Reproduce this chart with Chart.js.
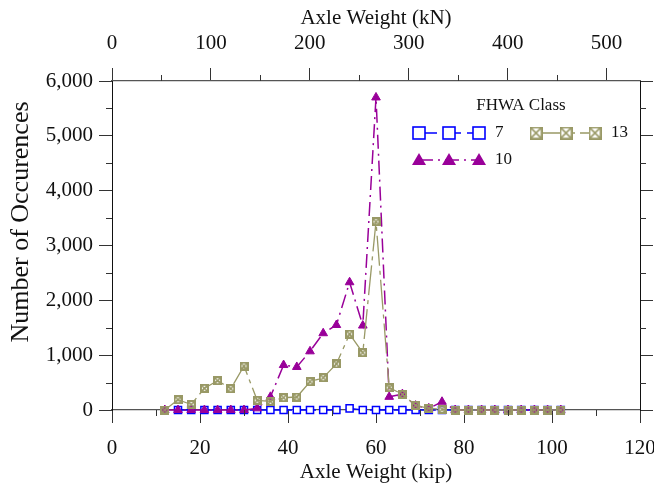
<!DOCTYPE html>
<html>
<head>
<meta charset="utf-8">
<script src="https://cdn.jsdelivr.net/npm/chart.js@4/dist/chart.umd.min.js"></script>
<style>
  html, body { margin: 0; padding: 0; background: #fff; }
  canvas { display: block; }
</style>
</head>
<body>
<canvas id="axleChart" width="654" height="489"></canvas>
<script>
// axle weights (kip) and number of occurences per FHWA class
const kips = [12, 15, 18, 21, 24, 27, 30, 33, 36, 39, 42, 45, 48, 51, 54, 57, 60, 63, 66, 69, 72, 75, 78, 81, 84, 87, 90, 93, 96, 99, 102];
const class7 = [null, 0, 0, 0, 0, 0, 0, 0, 0, 0, 0, 0, 0, 0, 30, 0, 0, 0, 0, 0, 0, 0, 0, 0, 0, 0, 0, 0, 0, 0, 0];
const class10 = [0, 0, 0, 0, 0, 0, 0, 30, 240, 820, 785, 1070, 1400, 1550, 2330, 1540, 5700, 240, 290, 80, 30, 150, 0, 0, 0, 0, 0, 0, 0, 0, 0];
const class13 = [0, 188, 100, 396, 534, 388, 802, 177, 159, 224, 237, 516, 589, 839, 1386, 1045, 3434, 407, 286, 85, 31, 12, 0, 0, 0, 0, 0, 0, 0, 0, 0];
const kipTicks = [0, 20, 40, 60, 80, 100, 120];
const kNTicks = [0, 100, 200, 300, 400, 500];

const KN_PER_KIP = 4.448;
const BLUE = "#0000ff", PURPLE = "#990099", TAN = "#999966";
const FONT = "'Liberation Serif', 'Times New Roman', serif";
const AXIS = "#333";

function pairs(ys) {
    return kips.map((x, i) => ({ x: x, y: ys[i] }));
}

function crossBox(size, lw, xw) {
    const c = document.createElement("canvas");
    c.width = c.height = size;
    const g = c.getContext("2d");
    const h = lw / 2;
    g.strokeStyle = TAN;
    g.lineWidth = lw;
    g.strokeRect(h, h, size - lw, size - lw);
    g.lineWidth = xw;
    g.beginPath();
    g.moveTo(h, h); g.lineTo(size - h, size - h);
    g.moveTo(size - h, h); g.lineTo(h, size - h);
    g.stroke();
    return c;
}

// minor ticks halfway between the labelled ones
const minorTicks = {
    id: "minorTicks",
    afterDraw(chart) {
        const ctx = chart.ctx, a = chart.chartArea, s = chart.scales;
        ctx.save();
        ctx.strokeStyle = AXIS;
        ctx.lineWidth = 1;
        ctx.beginPath();
        for (let v = 500; v < 6000; v += 1000) {
            const py = Math.round(s.y.getPixelForValue(v)) + 0.5;
            ctx.moveTo(a.left - 6, py); ctx.lineTo(a.left, py);
            ctx.moveTo(a.right, py); ctx.lineTo(a.right + 6, py);
        }
        for (let v = 10; v < 120; v += 20) {
            const px = Math.round(s.x.getPixelForValue(v)) + 0.5;
            ctx.moveTo(px, a.bottom); ctx.lineTo(px, a.bottom + 6);
        }
        for (let v = 50; v < 533; v += 100) {
            const px = Math.round(s.xTop.getPixelForValue(v)) + 0.5;
            ctx.moveTo(px, a.top - 6); ctx.lineTo(px, a.top);
        }
        ctx.stroke();

        // y title sits a little above the middle of the axis in the original
        ctx.translate(21, 222);
        ctx.rotate(-Math.PI / 2);
        ctx.fillStyle = "#111";
        ctx.font = "26px " + FONT;
        ctx.textAlign = "center";
        ctx.textBaseline = "middle";
        ctx.fillText("Number of Occurences", 0, 0);
        ctx.restore();
    }
};

// legend drawn as in the original: three markers joined by the series line
const seriesLegend = {
    id: "seriesLegend",
    afterDraw(chart) {
        const ctx = chart.ctx;
        ctx.save();
        ctx.fillStyle = "#111";
        ctx.font = "17px " + FONT;
        ctx.textAlign = "center";
        ctx.textBaseline = "middle";
        ctx.fillText("FHWA Class", 521, 106);

        const entries = [
            { label: "7", xs: [419, 449, 479], y: 133, tx: 495, color: BLUE, dash: [18, 6], kind: "square" },
            { label: "13", xs: [536, 566, 595], y: 133, tx: 611, color: TAN, dash: [30, 5, 4, 5], kind: "cross" },
            { label: "10", xs: [419, 449, 479], y: 160, tx: 495, color: PURPLE, dash: [14, 5, 2, 5], kind: "triangle" }
        ];
        const bigCross = crossBox(13, 1.8, 1.6);
        entries.forEach(e => {
            ctx.strokeStyle = e.color;
            ctx.lineWidth = 1.3;
            ctx.setLineDash(e.dash);
            ctx.beginPath();
            ctx.moveTo(e.xs[0], e.y);
            ctx.lineTo(e.xs[2], e.y);
            ctx.stroke();
            ctx.setLineDash([]);
            e.xs.forEach(x => {
                if (e.kind === "square") {
                    ctx.fillStyle = "#fff";
                    ctx.fillRect(x - 6, e.y - 6, 12, 12);
                    ctx.lineWidth = 1.6;
                    ctx.strokeRect(x - 6, e.y - 6, 12, 12);
                } else if (e.kind === "triangle") {
                    ctx.fillStyle = e.color;
                    ctx.beginPath();
                    ctx.moveTo(x, e.y - 7);
                    ctx.lineTo(x + 7, e.y + 5);
                    ctx.lineTo(x - 7, e.y + 5);
                    ctx.closePath();
                    ctx.fill();
                } else {
                    ctx.fillStyle = "#fff";
                    ctx.fillRect(x - 6, e.y - 6, 12, 12);
                    ctx.drawImage(bigCross, x - 6.5, e.y - 6.5);
                }
            });
            ctx.fillStyle = "#111";
            ctx.textAlign = "left";
            ctx.fillText(e.label, e.tx, e.y);
        });
        ctx.restore();
    }
};

const tickFont = { family: FONT, size: 21 };
const titleFont = { family: FONT, size: 21 };

new Chart(document.getElementById("axleChart").getContext("2d"), {
    type: "line",
    data: {
        datasets: [{
            label: "7",
            data: pairs(class7),
            borderColor: BLUE,
            borderWidth: 1.3,
            borderDash: [18, 6],
            pointStyle: "rect",
            pointRadius: 5,
            pointBorderWidth: 1.5,
            pointBorderColor: BLUE,
            pointBackgroundColor: "#fff",
            clip: false,
            order: 3
        }, {
            label: "10",
            data: pairs(class10),
            borderColor: PURPLE,
            borderWidth: 1.5,
            borderDash: [14, 5, 2, 5],
            pointStyle: "triangle",
            pointRadius: 5,
            pointBorderWidth: 1,
            pointBorderColor: PURPLE,
            pointBackgroundColor: PURPLE,
            clip: false,
            order: 2
        }, {
            label: "13",
            data: pairs(class13),
            borderColor: TAN,
            borderWidth: 1.3,
            borderDash: [30, 5, 4, 5],
            pointStyle: crossBox(9, 2, 1.6),
            pointRadius: 5,
            clip: false,
            order: 1
        }]
    },
    options: {
        responsive: false,
        devicePixelRatio: 1,
        animation: false,
        events: [],
        layout: { padding: 0 },
        plugins: { legend: { display: false }, tooltip: { enabled: false } },
        scales: {
            x: {
                type: "linear",
                position: "bottom",
                min: 0, max: 120,
                afterFit(s) { s.height = 79; s.paddingLeft = 0; s.paddingRight = 0; },
                afterBuildTicks(s) { s.ticks = kipTicks.map(v => ({ value: v })); },
                border: { color: "#555", width: 1.2 },
                grid: { drawOnChartArea: false, tickLength: 13, tickColor: AXIS },
                ticks: { font: tickFont, color: "#111", padding: 13, maxRotation: 0 },
                title: { display: true, text: "Axle Weight (kip)", font: titleFont, color: "#111", padding: { top: 0, bottom: 4 } }
            },
            xTop: {
                type: "linear",
                position: "top",
                min: 0, max: 120 * KN_PER_KIP,
                afterFit(s) { s.height = 81; s.paddingLeft = 0; s.paddingRight = 0; },
                afterBuildTicks(s) { s.ticks = kNTicks.map(v => ({ value: v })); },
                border: { color: "#555", width: 1.2 },
                grid: { drawOnChartArea: false, tickLength: 13, tickColor: AXIS },
                ticks: { font: tickFont, color: "#111", padding: 12, maxRotation: 0 },
                title: { display: true, text: "Axle Weight (kN)", font: titleFont, color: "#111", padding: { top: 6, bottom: 0 } }
            },
            y: {
                position: "left",
                min: 0, max: 6000,
                afterFit(s) { s.width = 112; s.paddingTop = 0; s.paddingBottom = 0; },
                border: { color: "#111", width: 1 },
                grid: { drawOnChartArea: false, tickLength: 13, tickColor: AXIS },
                ticks: {
                    stepSize: 1000, font: tickFont, color: "#111", padding: 6,
                    callback: v => v.toLocaleString("en-US")
                }
            },
            yRight: {
                position: "right",
                min: 0, max: 6000,
                afterFit(s) { s.width = 14; s.paddingTop = 0; s.paddingBottom = 0; },
                border: { color: "#111", width: 1 },
                grid: { drawOnChartArea: false, tickLength: 13, tickColor: AXIS },
                ticks: { stepSize: 1000, display: false }
            }
        }
    },
    plugins: [minorTicks, seriesLegend]
});
</script>
</body>
</html>
